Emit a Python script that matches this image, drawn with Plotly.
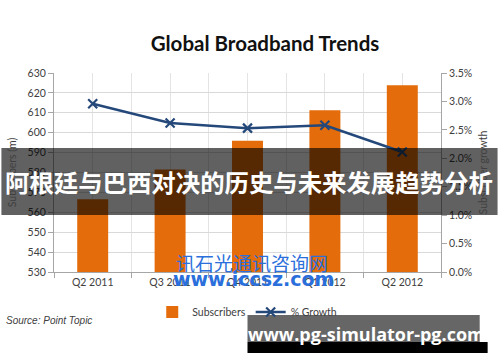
import plotly.graph_objects as go

# ---- data ----
quarters = ["Q2 2011", "Q3 2011", "Q4 2011", "Q1 2012", "Q2 2012"]
subscribers = [566.6, 581.5, 596.0, 611.3, 623.8]          # millions
growth = [0.0296, 0.0262, 0.0253, 0.0258, 0.0211]          # % growth
left_ticks = [530, 540, 550, 560, 570, 580, 590, 600, 610, 620, 630]

title_text = "Global Broadband Trends"
banner_text = "阿根廷与巴西对决的历史与未来发展趋势分析"
wm_cn = "讯石光通讯咨询网"
wm_url = "www.iccsz.com"
site_text = "www.pg-simulator-pg.com"
source_text = "Source: Point Topic"

# ---- layout helpers (pixel -> paper) ----
L, R, T, B = 53, 443, 73, 272
def px(p):
    return (p - L) / (R - L)
def py(p):
    return (B - p) / (B - T)

idx = list(range(len(quarters)))

fig = go.Figure()
fig.add_trace(go.Bar(
    x=idx, y=[v - 530 for v in subscribers], base=530, name="Subscribers",
    marker=dict(color="#E46C0A", line=dict(width=0)), width=0.4,
))
fig.add_trace(go.Scatter(
    x=idx, y=growth, name="% Growth", yaxis="y2", mode="lines+markers",
    line=dict(color="#24487A", width=2.5),
    marker=dict(symbol="x-thin", size=9, line=dict(color="#24487A", width=2.2)),
))

tick_font = dict(family="Lato, 'Open Sans', sans-serif", size=10.5, color="#404040")

fig.update_layout(
    width=500, height=362,
    margin=dict(l=L, r=500 - R, t=T, b=362 - B),
    paper_bgcolor="white", plot_bgcolor="white",
    title=dict(text=title_text, x=0.53, xref="container", y=1 - 44 / 362,
               yref="container", xanchor="center", yanchor="middle",
               font=dict(family="Lato, 'Open Sans', sans-serif", size=20.5,
                         color="#111111", weight="bold")),
    showlegend=True,
    legend=dict(orientation="h", x=px(152), y=py(312), xanchor="left",
                yanchor="middle", font=dict(family="Lato, sans-serif", size=10.5,
                                            color="#404040"),
                bgcolor="rgba(0,0,0,0)", itemwidth=30),
    bargap=0.6,
    xaxis=dict(
        range=[-0.5, 4.5], tickvals=idx, ticktext=quarters, ticks="",
        showgrid=True, gridcolor="#E4E4E4", gridwidth=1,
        showline=True, linecolor="#A6A6A6", linewidth=1, zeroline=False,
        tickfont=tick_font,
        minor=dict(tickvals=[i - 0.5 for i in range(len(quarters) + 1)],
                   ticks="outside", ticklen=5, tickcolor="#A6A6A6",
                   showgrid=True, gridcolor="#E4E4E4"),
    ),
    yaxis=dict(
        range=[530, 630], tickvals=left_ticks, showgrid=True, gridcolor="#D9D9D9",
        showline=True, linecolor="#A6A6A6", ticks="outside", ticklen=5,
        tickcolor="#A6A6A6", zeroline=False, tickfont=tick_font,
        title=dict(text="Subscribers (m)", font=dict(family="Lato, sans-serif",
                                                      size=10.5, color="#404040"),
                   standoff=8),
    ),
    yaxis2=dict(
        range=[0, 0.035], dtick=0.005, tickformat=".1%", overlaying="y",
        side="right", showgrid=False, showline=True, linecolor="#A6A6A6",
        ticks="outside", ticklen=5, tickcolor="#A6A6A6", zeroline=False,
        tickfont=tick_font,
        title=dict(text="Subscriber growth", font=dict(family="Lato, sans-serif",
                                                        size=10.5, color="#404040"),
                   standoff=8),
    ),
)

shapes = [
    # dark translucent banner
    dict(type="rect", xref="paper", yref="paper", x0=px(0), x1=px(500),
         y0=py(215), y1=py(148), fillcolor="rgba(0,0,0,0.62)",
         line=dict(width=0), layer="above"),
    # bottom-right site box
    dict(type="rect", xref="paper", yref="paper", x0=px(248), x1=px(482),
         y0=py(342), y1=py(315), fillcolor="rgba(0,0,0,0.6)",
         line=dict(width=0), layer="above"),
    dict(type="rect", xref="paper", yref="paper", x0=px(248), x1=px(490),
         y0=py(353), y1=py(342), fillcolor="#000000",
         line=dict(width=0), layer="above"),
]
fig.update_layout(shapes=shapes)

annotations = [
    dict(text=source_text, xref="paper", yref="paper", x=px(3), y=py(320),
         xanchor="left", yanchor="middle", showarrow=False,
         font=dict(family="Liberation Sans, Arial, sans-serif", size=10,
                   color="#404040", style="italic")),
    dict(text=wm_cn, xref="paper", yref="paper", x=px(253), y=py(262),
         xanchor="center", yanchor="middle", showarrow=False,
         font=dict(family="Noto Sans CJK SC", size=19, color="#2A6FDB")),
    dict(text=wm_url, xref="paper", yref="paper", x=px(254), y=py(279),
         xanchor="center", yanchor="middle", showarrow=False,
         font=dict(family="DejaVu Sans, sans-serif", size=19, color="#2A6FDB",
                   weight="bold")),
    dict(text=banner_text, xref="paper", yref="paper", x=px(250), y=py(181),
         xanchor="center", yanchor="middle", showarrow=False,
         font=dict(family="Noto Sans CJK SC", size=24.4, color="white",
                   weight="bold")),
    dict(text=site_text, xref="paper", yref="paper", x=px(368), y=py(334),
         xanchor="center", yanchor="middle", showarrow=False,
         font=dict(family="Open Sans, sans-serif", size=18, color="white",
                   weight="bold")),
]
fig.update_layout(annotations=annotations)

fig.write_html("out.html", config={"displayModeBar": False},
               post_script="document.body.style.margin='0';")
